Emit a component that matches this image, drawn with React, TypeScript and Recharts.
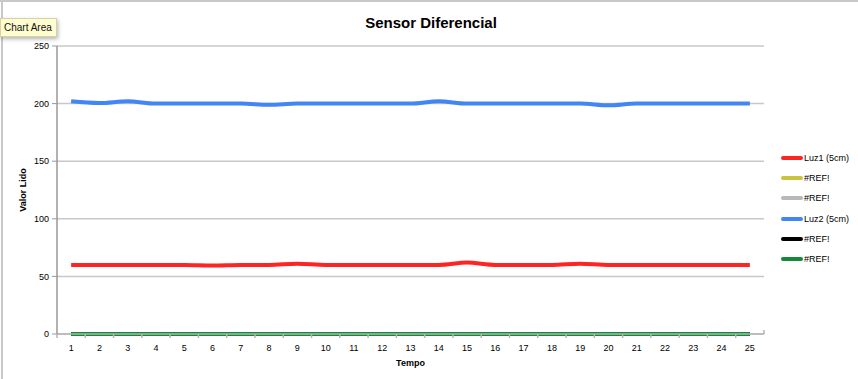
import React from 'react';
import { LineChart, Line, XAxis, YAxis, CartesianGrid, Legend, Label } from 'recharts';

const categories = ['1', '2', '3', '4', '5', '6', '7', '8', '9', '10', '11', '12', '13', '14', '15', '16', '17', '18', '19', '20', '21', '22', '23', '24', '25'];
const luz1 = [60, 60, 60, 60, 60, 59.5, 60, 60, 61, 60, 60, 60, 60, 60, 62, 60, 60, 60, 61, 60, 60, 60, 60, 60, 60];
const refA = [0, 0, 0, 0, 0, 0, 0, 0, 0, 0, 0, 0, 0, 0, 0, 0, 0, 0, 0, 0, 0, 0, 0, 0, 0];
const refB = [0, 0, 0, 0, 0, 0, 0, 0, 0, 0, 0, 0, 0, 0, 0, 0, 0, 0, 0, 0, 0, 0, 0, 0, 0];
const luz2 = [202, 200.5, 202, 200, 200, 200, 200, 199, 200, 200, 200, 200, 200, 202, 200, 200, 200, 200, 200, 198.5, 200, 200, 200, 200, 200];
const refC = [0, 0, 0, 0, 0, 0, 0, 0, 0, 0, 0, 0, 0, 0, 0, 0, 0, 0, 0, 0, 0, 0, 0, 0, 0];
const refD = [0, 0, 0, 0, 0, 0, 0, 0, 0, 0, 0, 0, 0, 0, 0, 0, 0, 0, 0, 0, 0, 0, 0, 0, 0];

const seriesKeys = ['s0', 's1', 's2', 's3', 's4', 's5'];
const seriesNames = ['Luz1 (5cm)', '#REF!', '#REF!', 'Luz2 (5cm)', '#REF!', '#REF!'];
const seriesColors = ['#ff2424', '#c8c43c', '#b8b8b8', '#4285f4', '#000000', '#138a36'];
const seriesValues = [luz1, refA, refB, luz2, refC, refD];
const yTicks = [0, 50, 100, 150, 200, 250];

const data = categories.map((c, i) => {
  const row: Record<string, string | number> = { t: c };
  seriesKeys.forEach((k, j) => {
    row[k] = seriesValues[j][i];
  });
  return row;
});

const W = 858;
const H = 379;
const PLOT_LEFT = 57;
const PLOT_RIGHT = 764;
const STEP = (PLOT_RIGHT - PLOT_LEFT) / categories.length;
const FONT = '"Liberation Sans", Arial, sans-serif';

const XTick = (props: any) => {
  const { x, y, payload, index } = props;
  const half = STEP / 2;
  return (
    <g>
      <line x1={x - half} y1={y} x2={x - half} y2={y + 4} stroke="#b4b4b4" strokeWidth={1.5} />
      {index === categories.length - 1 && (
        <line x1={x + half} y1={y - 4} x2={x + half} y2={y} stroke="#b4b4b4" strokeWidth={1.5} />
      )}
      <text x={x} y={y + 17} textAnchor="middle" fontSize={9} fontFamily={FONT} fill="#000">
        {payload.value}
      </text>
    </g>
  );
};

const LegendContent = () => (
  <div style={{ fontFamily: FONT, fontSize: 9, color: '#000' }}>
    {seriesNames.map((n, i) => (
      <div key={i} style={{ height: 20.2, display: 'flex', alignItems: 'center' }}>
        <div style={{ width: 22, height: 4, borderRadius: 2, background: seriesColors[i] }} />
        <span style={{ marginLeft: 1 }}>{n}</span>
      </div>
    ))}
  </div>
);

export default function App() {
  return (
    <div style={{ position: 'absolute', left: 0, top: 0, width: W, height: H, background: '#fff', overflow: 'hidden' }}>
      <div style={{ position: 'absolute', left: 0, top: 0, width: W, height: 2, background: '#c8c8c8' }} />
      <div style={{ position: 'absolute', left: 1, top: 0, width: 2, height: H, background: '#c8c8c8' }} />
      <div
        style={{
          position: 'absolute',
          left: 0,
          top: 0,
          width: W,
          textAlign: 'center',
          fontFamily: FONT,
          fontWeight: 'bold',
          fontSize: 15,
          lineHeight: '46px',
          color: '#000',
          paddingLeft: 2,
          zIndex: 2,
        }}
      >
        Sensor Diferencial
      </div>
      <LineChart width={W} height={H} data={data} margin={{ top: 46, right: W - PLOT_RIGHT, bottom: 15, left: 0 }}>
        <CartesianGrid vertical={false} stroke="#c8c8c8" strokeWidth={1.5} />
        <XAxis
          dataKey="t"
          scale="point"
          padding={{ left: STEP / 2, right: STEP / 2 }}
          height={30}
          tickSize={0}
          tickMargin={0}
          tickLine={false}
          tick={<XTick />}
          interval={0}
          axisLine={{ stroke: '#b4b4b4', strokeWidth: 1.5 }}
        >
          <Label
            content={(p: any) => (
              <text
                x={p.viewBox.x + p.viewBox.width / 2}
                y={366}
                textAnchor="middle"
                fontSize={9}
                fontWeight="bold"
                fontFamily={FONT}
                fill="#000"
              >
                Tempo
              </text>
            )}
          />
        </XAxis>
        <YAxis
          domain={[0, 250]}
          ticks={yTicks}
          width={PLOT_LEFT}
          tickSize={5}
          tickMargin={3}
          tick={{ fontSize: 9, fontFamily: FONT, fill: '#000' }}
          tickLine={{ stroke: '#999' }}
          axisLine={{ stroke: '#999', strokeWidth: 1.5 }}
          interval={0}
        >
          <Label
            content={(p: any) => (
              <text
                x={26}
                y={190}
                transform="rotate(-90 26 190)"
                textAnchor="middle"
                fontSize={9}
                fontWeight="bold"
                fontFamily={FONT}
                fill="#000"
              >
                Valor Lido
              </text>
            )}
          />
        </YAxis>
        <Legend
          layout="horizontal"
          align="center"
          verticalAlign="middle"
          content={<LegendContent />}
          wrapperStyle={{ position: 'absolute', left: 781, top: 148, width: 77, height: 122 }}
        />
        {seriesKeys.map((k, i) => (
          <Line
            key={k}
            dataKey={k}
            name={seriesNames[i]}
            type="monotone"
            stroke={seriesColors[i]}
            strokeWidth={4}
            dot={false}
            activeDot={false}
            isAnimationActive={false}
          />
        ))}
      </LineChart>
      <div
        style={{
          position: 'absolute',
          left: 0,
          top: 18,
          width: 57,
          height: 19,
          background: '#fffdd0',
          border: '1px solid #d6d3a8',
          boxShadow: '1px 2px 4px rgba(0,0,0,0.3)',
          fontFamily: FONT,
          fontSize: 10,
          lineHeight: '18px',
          paddingLeft: 3,
          boxSizing: 'border-box',
          color: '#111',
          whiteSpace: 'nowrap',
          overflow: 'hidden',
          zIndex: 3,
        }}
      >
        Chart Area
      </div>
    </div>
  );
}
